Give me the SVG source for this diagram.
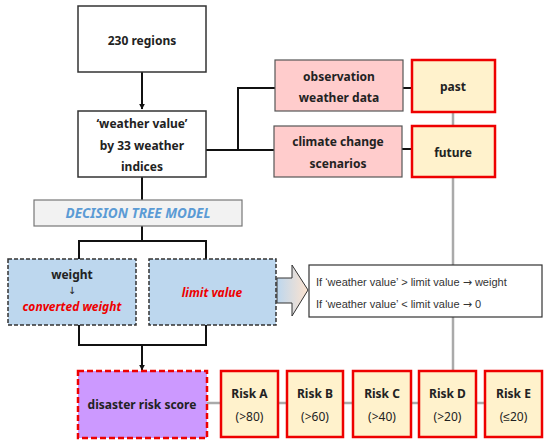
<svg xmlns="http://www.w3.org/2000/svg" width="550" height="448" viewBox="0 0 550 448">
<defs>
<style>
.t{font-family:"Noto Sans","Liberation Sans",sans-serif;font-weight:bold;font-size:12px;fill:#222;text-anchor:middle}
.wb{fill:#fff;stroke:#333;stroke-width:1.5}
.pk{fill:#ffcccc;stroke:#555;stroke-width:1.2}
.yl{fill:#fff2cc;stroke:#e00;stroke-width:2.5}
.bl{fill:#bdd7ee;stroke:#333;stroke-width:1.5;stroke-dasharray:4 2}
.ln{fill:none;stroke:#111;stroke-width:2}
.gl{fill:none;stroke:#aaa;stroke-width:2.5}
.red{fill:#e00;font-style:italic}
.c{font-family:"Liberation Sans",sans-serif;font-size:11px;fill:#333}
.ar{font-family:"DejaVu Sans",sans-serif}
</style>
<marker id="ah" viewBox="0 0 10 10" refX="9" refY="5" markerWidth="6" markerHeight="6" orient="auto" markerUnits="userSpaceOnUse">
<path d="M0,0 L10,5 L0,10 z" fill="#111"/>
</marker>
<linearGradient id="ag" x1="0" x2="1" y1="0" y2="0">
<stop offset="0" stop-color="#bdd7ee"/>
<stop offset="1" stop-color="#fde3cf"/>
</linearGradient>
</defs>
<g id="connectors">
<path class="gl" d="M453,112 V371"/>
<path class="gl" d="M207,403 H221 M278,403 H287 M343,403 H353 M411,403 H419 M476,403 H485"/>
<path class="ln" d="M142,72 V109" marker-end="url(#ah)"/>
<path class="ln" d="M206,150 H274 M238,150 V88 H275 M403,88 H412 M402,149 H412"/>
<path class="ln" d="M142,177 V200 M142,226 V241 M79,259 V241 H206 V259"/>
<path class="ln" d="M79,325 V345 H206 V325 M142,345 V370" marker-end="url(#ah)"/>
</g>
<g id="regions"><rect class="wb" x="78" y="6" width="128" height="66"/><text class="t" x="142" y="45">230 regions</text></g>
<g id="weather"><rect class="wb" x="78" y="111" width="128" height="66"/>
<text class="t" x="142" y="128">‘weather value’</text><text class="t" x="142" y="150">by 33 weather</text><text class="t" x="142" y="171">indices</text></g>
<g id="obs"><rect class="pk" x="275" y="60" width="128" height="51"/><text class="t" x="339" y="81">observation</text><text class="t" x="339" y="102">weather data</text></g>
<g id="climate"><rect class="pk" x="274" y="126" width="128" height="51"/><text class="t" x="338" y="146">climate change</text><text class="t" x="338" y="168">scenarios</text></g>
<g id="past"><rect class="yl" x="412" y="60" width="83" height="52"/><text class="t" x="453" y="91">past</text></g>
<g id="future"><rect class="yl" x="412" y="126" width="83" height="51"/><text class="t" x="453" y="157">future</text></g>
<g id="dtm"><rect x="34" y="200" width="208" height="26" fill="#f2f2f2" stroke="#777" stroke-width="1.2"/>
<text class="t" x="138" y="218" style="font-size:13.5px;fill:#5b9bd5;font-style:italic">DECISION TREE MODEL</text></g>
<g id="weight"><rect class="bl" x="8" y="259" width="128" height="66"/>
<text class="t" x="72" y="279">weight</text><text class="t ar" x="72" y="294" style="font-weight:normal;font-size:10px">↓</text><text class="t red" x="72" y="311">converted weight</text></g>
<g id="limit"><rect class="bl" x="149" y="259" width="127" height="66"/><text class="t red" x="212" y="297">limit value</text></g>
<g id="blockarrow"><path d="M277,278 H292 V265 L308,290 L292,316 V303 H277 Z" fill="url(#ag)" stroke="#333" stroke-width="1"/></g>
<g id="condition"><rect x="309" y="265" width="233" height="52" fill="#fff" stroke="#333" stroke-width="1.2"/>
<text class="c" x="316" y="286">If ‘weather value’ &gt; limit value <tspan class="ar">→</tspan> weight</text>
<text class="c" x="316" y="308">If ‘weather value’ &lt; limit value <tspan class="ar">→</tspan> 0</text></g>
<g id="score"><rect x="78" y="371" width="129" height="67" fill="#cc99ff" stroke="#e00" stroke-width="2.5" stroke-dasharray="6 3"/>
<text class="t" x="142" y="409">disaster risk score</text></g>
<g id="riskA"><rect class="yl" x="221" y="371" width="57" height="66"/><text class="t" x="249.5" y="398">Risk A</text><text class="t" x="249.5" y="421" style="font-weight:normal">(&gt;80)</text></g>
<g id="riskB"><rect class="yl" x="287" y="371" width="56" height="66"/><text class="t" x="315" y="398">Risk B</text><text class="t" x="315" y="421" style="font-weight:normal">(&gt;60)</text></g>
<g id="riskC"><rect class="yl" x="353" y="371" width="58" height="66"/><text class="t" x="382" y="398">Risk C</text><text class="t" x="382" y="421" style="font-weight:normal">(&gt;40)</text></g>
<g id="riskD"><rect class="yl" x="419" y="371" width="57" height="66"/><text class="t" x="447.5" y="398">Risk D</text><text class="t" x="447.5" y="421" style="font-weight:normal">(&gt;20)</text></g>
<g id="riskE"><rect class="yl" x="485" y="371" width="57" height="66"/><text class="t" x="513.5" y="398">Risk E</text><text class="t" x="513.5" y="421" style="font-weight:normal">(≤20)</text></g>
</svg>
